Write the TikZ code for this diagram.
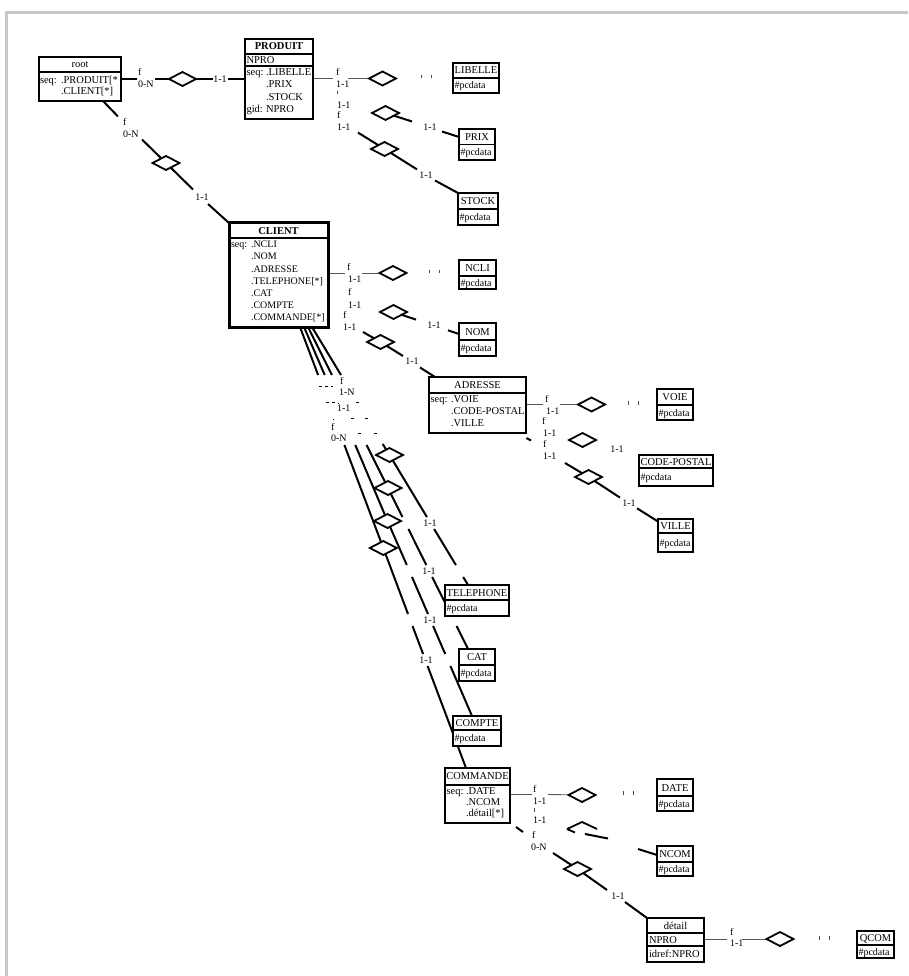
\documentclass[tikz,border=0pt]{standalone}
\usepackage{fontspec}
\setmainfont{Liberation Serif}
\usetikzlibrary{shapes.geometric,calc}
\pgfdeclarelayer{bg}
\pgfsetlayers{bg,main}
\definecolor{framegray}{RGB}{200,200,200}

\tikzset{
  every node/.style={inner sep=0pt, outer sep=0pt},
  conn/.style={line width=2pt},
  thinc/.style={line width=0.9pt, black!65},
  winframe/.style={line width=3pt, framegray},
  box/.style={draw, fill=white, line width=2pt, anchor=north west},
  sepl/.style={line width=1.2pt},
  txt/.style={font=\fontsize{10.5}{12}\selectfont, text height=7pt, text depth=0pt},
  hd/.style={txt, anchor=center},
  bd/.style={txt, anchor=west},
  bdn/.style={bd, font=\fontsize{10}{12}\selectfont},
  lab/.style={font=\fontsize{10}{12}\selectfont, text height=7pt, text depth=0pt, anchor=west},
  labc/.style={lab, anchor=center},
  rel/.style={diamond, draw, fill=white, line width=1.8pt, minimum width=27pt, minimum height=14pt},
  tickm/.style={line width=0.9pt, black!70},
}

% leaf entity: name, x1, y1, x2, y2, separator y, title
\newcommand\leafbox[7]{%
  \node[box, minimum width={(#4-#2)*1pt}, minimum height={(#5-#3)*1pt}] (#1) at (#2,#3) {};
  \draw[sepl] (#2,#6) -- (#4,#6);
  \node[hd] (#1-name) at ({(#2+#4)/2},{(#3+#6)/2}) {#7};
  \node[bdn] (#1-data) at ({#2+1.5},{(#6+#5)/2}) {\#pcdata};
}
% compound entity frame: name, x1, y1, x2, y2
\newcommand\entbox[5]{%
  \node[box, minimum width={(#4-#2)*1pt}, minimum height={(#5-#3)*1pt}] (#1) at (#2,#3) {};
}

\begin{document}
\begin{tikzpicture}[x=1pt,y=-1pt]
\useasboundingbox (0,0) rectangle (908,976);

% ---------------- entities ----------------
\entbox{root}{39}{57}{121}{101}
\draw[sepl] (39,72) -- (121,72);
\node[hd] (root-name) at (80,64.5) {root};
\node[bd] (root-s) at (40,80) {seq:};
\node[bd] (root-a) at (61,80) {.PRODUIT[*};
\node[bd] (root-b) at (61,91) {.CLIENT[*]};

\entbox{produit}{245}{39}{313}{119}
\draw[sepl] (245,54) -- (313,54);
\draw[sepl] (245,66) -- (313,66);
\node[hd] (produit-name) at (279,46.5) {\bfseries PRODUIT};
\node[bd] (produit-id) at (246.5,60) {NPRO};
\node[bd] (produit-s) at (246.5,72) {seq:};
\node[bd] (produit-a) at (266,72) {.LIBELLE};
\node[bd] (produit-b) at (266,84.5) {.PRIX};
\node[bd] (produit-c) at (266,97) {.STOCK};
\node[bd] (produit-g) at (246.5,109) {gid:};
\node[bd] (produit-gk) at (266,109) {NPRO};

\node[box, line width=3pt, minimum width=99pt, minimum height=104pt] (client) at (229,223) {};
\draw[sepl] (229,238) -- (328,238);
\node[hd] (client-name) at (278.5,230.5) {\bfseries CLIENT};
\node[bdn] (client-s) at (231,244) {seq:};
\node[bdn] (client-a) at (251,244) {.NCLI};
\node[bdn] (client-b) at (251,256) {.NOM};
\node[bdn] (client-c) at (251,268.5) {.ADRESSE};
\node[bdn] (client-d) at (251,280.5) {.TELEPHONE[*]};
\node[bdn] (client-e) at (251,292.5) {.CAT};
\node[bdn] (client-f) at (251,304.5) {.COMPTE};
\node[bdn] (client-g) at (251,316.5) {.COMMANDE[*]};

\entbox{adresse}{429}{377}{526}{433}
\draw[sepl] (429,393) -- (526,393);
\node[hd] (adresse-name) at (477.5,385) {ADRESSE};
\node[bd] (adresse-s) at (430.5,399) {seq:};
\node[bd] (adresse-a) at (451,399) {.VOIE};
\node[bd] (adresse-b) at (451,411) {.CODE-POSTAL};
\node[bd] (adresse-c) at (451,423) {.VILLE};

\entbox{commande}{445}{768}{510}{823}
\draw[sepl] (445,785) -- (510,785);
\node[hd] (commande-name) at (477.5,776) {COMMANDE};
\node[bd] (commande-s) at (446.5,791) {seq:};
\node[bd] (commande-a) at (466,791) {.DATE};
\node[bd] (commande-b) at (466,802) {.NCOM};
\node[bd] (commande-c) at (466,813) {.détail[*]};

\entbox{detail}{647}{918}{704}{962}
\draw[sepl] (647,933) -- (704,933);
\draw[sepl] (647,946) -- (704,946);
\node[hd] (detail-name) at (675.5,925.5) {détail};
\node[bd] (detail-id) at (649,939.5) {NPRO};
\node[bd] (detail-ref) at (649,954) {idref:NPRO};

\leafbox{libelle}{453}{63}{499}{93}{78}{LIBELLE}
\leafbox{prix}{459}{129}{495}{160}{144.5}{PRIX}
\leafbox{stock}{458}{193}{498}{225}{209}{STOCK}
\leafbox{ncli}{459}{260}{496}{289}{276}{NCLI}
\leafbox{nom}{459}{323}{496}{356}{340}{NOM}
\leafbox{voie}{657}{389}{693}{420}{405}{VOIE}
\leafbox{cp}{639}{455}{713}{486}{468}{CODE-POSTAL}
\leafbox{ville}{658}{519}{693}{552}{533}{VILLE}
\leafbox{tel}{445}{585}{509}{616}{600}{TELEPHONE}
\leafbox{cat}{459}{649}{495}{681}{665}{CAT}
\leafbox{compte}{453}{716}{501}{746}{730}{COMPTE}
\leafbox{date}{657}{779}{693}{811}{796}{DATE}
\leafbox{ncom}{657}{846}{693}{876}{862}{NCOM}
\leafbox{qcom}{857}{931}{894}{958}{945}{QCOM}

% ---------------- relationship diamonds ----------------
\node[rel] (dRP) at (182.5,79) {};
\node[rel] (dRC) at (166,163) {};
\node[rel] (dPL) at (382.5,78.5) {};
\node[rel] (dPP) at (385.5,113) {};
\node[rel] (dPS) at (384.5,149) {};
\node[rel] (dCN) at (393,273) {};
\node[rel] (dCNo) at (393.5,312) {};
\node[rel] (dCA) at (380.5,342) {};
\node[rel] (dAV) at (591.5,404.5) {};
\node[rel] (dAC) at (582.5,440) {};
\node[rel] (dAVi) at (588.5,477) {};
\node[rel] (dT) at (389.5,455) {};
\node[rel] (dCa) at (388,488) {};
\node[rel] (dCo) at (387.5,521) {};
\node[rel] (dCm) at (383.3,548) {};
\node[rel] (dD) at (582,795) {};
\node[rel] (dDt) at (577.5,869) {};
\node[rel] (dQ) at (780,939) {};
% half-hidden diamond towards NCOM
\draw[line width=1.8pt] (567,829) -- (582,822) -- (597,829);
\draw[line width=1.8pt] (567,829) -- (575,832.5);

% ---------------- role labels ----------------
\node[lab] (l1) at (138,72) {f};
\node[lab] (l2) at (138,84) {0-N};
\node[labc] (l3) at (220,79) {1-1};
\node[lab] (l4) at (123,122) {f};
\node[lab] (l5) at (123,134) {0-N};
\node[labc] (l6) at (202,197) {1-1};
\node[lab] (l7) at (336,72) {f};
\node[lab] (l8) at (336,84) {1-1};
\node[lab] (l9) at (337,105) {1-1};
\node[labc] (l10) at (430,127) {1-1};
\node[lab] (l11) at (337,115) {f};
\node[lab] (l12) at (337,127) {1-1};
\node[labc] (l13) at (426,175) {1-1};
\node[lab] (l14) at (347,266.5) {f};
\node[lab] (l15) at (348,279) {1-1};
\node[lab] (l16) at (348,292) {f};
\node[lab] (l17) at (348,304.5) {1-1};
\node[labc] (l18) at (434,324.5) {1-1};
\node[lab] (l19) at (343,315) {f};
\node[lab] (l20) at (343,326.5) {1-1};
\node[labc] (l21) at (412,361) {1-1};
\node[lab] (l22) at (545,399) {f};
\node[lab] (l23) at (546,411) {1-1};
\node[lab] (l24) at (542,421) {f};
\node[lab] (l25) at (543,433) {1-1};
\node[labc] (l26) at (617,449) {1-1};
\node[lab] (l27) at (543,444) {f};
\node[lab] (l28) at (543,456) {1-1};
\node[labc] (l29) at (629,503) {1-1};
\node[lab] (l30) at (340,381) {f};
\node[lab] (l31) at (339,392) {1-N};
\node[lab] (l32) at (337,408) {1-1};
\node[lab] (l33) at (331,427) {f};
\node[lab] (l34) at (331,438) {0-N};
\node[labc] (l35) at (430,523) {1-1};
\node[labc] (l36) at (429,571) {1-1};
\node[labc] (l37) at (430,620) {1-1};
\node[labc] (l38) at (426,660) {1-1};
\node[lab] (l39) at (533,789) {f};
\node[lab] (l40) at (533,801) {1-1};
\node[lab] (l41) at (533,820) {1-1};
\node[lab] (l42) at (532,835) {f};
\node[lab] (l43) at (531,847) {0-N};
\node[labc] (l44) at (618,896) {1-1};
\node[lab] (l45) at (730,932) {f};
\node[lab] (l46) at (730,943) {1-1};

% small label remnants
\foreach \x/\y in {421/75, 431/75, 429/269.5, 439/269.5, 628/401, 638/401,
                   623/791, 633/791, 819/936, 829/936, 337.5/91, 534.5/808}
  \draw[tickm] (\x,\y) -- (\x,\y+3.5);
\foreach \xa/\xb/\y in {319/322/386, 325/328/386, 331/333/386,
                        326/329/402, 332/335/402, 337.5/338.5/403, 356/359/402,
                        333/334/419, 351/354/418, 365/368/418,
                        358/361/433, 374/377/433}
  \draw[line width=0.9pt] (\xa,\y) -- (\xb,\y);

% ---------------- connectors ----------------
\begin{pgfonlayer}{bg}
\draw[winframe] (5,12.5) -- (908,12.5);
\draw[winframe] (6.5,11) -- (6.5,976);

% root - PRODUIT
\draw[conn] (root.east) -- (137,79);
\draw[conn] (155,79) -- (dRP);
\draw[conn] (dRP) -- (213,79);
\draw[conn] (228,79) -- (produit.west);
% root - CLIENT
\draw[conn] (103,101) -- (118,116.5);
\draw[conn] (142,139.5) -- (dRC);
\draw[conn] (dRC) -- (193,189.5);
\draw[conn] (208,204) -- (client.north west);

% PRODUIT attributes
\draw[thinc] (313,78.5) -- (333,78.5);
\draw[thinc] (348,78.5) -- (dPL);
\draw[conn] (dPP) -- (412,121.5);
\draw[conn] (442,131.5) -- (459,137);
\draw[conn] (358,132.6) -- (dPS);
\draw[conn] (dPS) -- (417,169.4);
\draw[conn] (435,180.5) -- (stock.north west);

% CLIENT attributes
\draw[thinc] (328,273) -- (345,273);
\draw[thinc] (362,273) -- (dCN);
\draw[conn] (dCNo) -- (416,319.6);
\draw[conn] (448,330.3) -- (459,334);
\draw[conn] (363,332) -- (dCA);
\draw[conn] (dCA) -- (403,356);
\draw[conn] (420,367.5) -- (435,377);

% ADRESSE attributes
\draw[thinc] (526,404.5) -- (543,404.5);
\draw[thinc] (560,404.5) -- (dAV);
\draw[conn] (526.5,438) -- (531,440.5);
\draw[conn] (565,463) -- (dAVi);
\draw[conn] (dAVi) -- (620,497.6);
\draw[conn] (637,508.3) -- (658,521.5);

% CLIENT - TELEPHONE
\draw[conn] (312,327) -- (341,375);
\draw[conn] (382.7,444) -- (dT);
\draw[conn] (dT) -- (426.9,517);
\draw[conn] (434.1,529) -- (455.9,565);
\draw[conn] (463.2,577) -- (468,585);
% CLIENT - CAT
\draw[conn] (308,327) -- (331.9,375);
\draw[conn] (366.6,445) -- (dCa);
\draw[conn] (dCa) -- (402.4,517);
\draw[conn] (408.4,529) -- (426.3,565);
\draw[conn] (432.2,577) -- (450.6,614);
\draw[conn] (456.6,626) -- (468,649);
% CLIENT - COMPTE
\draw[conn] (304,327) -- (324.7,375);
\draw[conn] (355.3,445) -- (dCo);
\draw[conn] (dCo) -- (406.8,565);
\draw[conn] (412,577) -- (428,614);
\draw[conn] (433.1,626) -- (445.2,654);
\draw[conn] (450.4,666) -- (472,716);
% CLIENT - COMMANDE
\draw[conn] (300,327) -- (318.1,375);
\draw[conn] (344.4,445) -- (dCm);
\draw[conn] (dCm) -- (408,614);
\draw[conn] (412.5,626) -- (423.1,654);
\draw[conn] (427.6,666) -- (466,768);

% COMMANDE attributes
\draw[thinc] (510,794.5) -- (532,794.5);
\draw[thinc] (548,794.5) -- (dD);
\draw[conn] (585,834) -- (608,838.5);
\draw[conn] (638,849) -- (657,855);
\draw[conn] (516,827) -- (523,832);
\draw[conn] (553,853) -- (dDt);
\draw[conn] (dDt) -- (607,890);
\draw[conn] (625,902) -- (detail.north west);

% détail attribute
\draw[thinc] (704,939) -- (727,939);
\draw[thinc] (742,939) -- (dQ);
\end{pgfonlayer}
\end{tikzpicture}
\end{document}
